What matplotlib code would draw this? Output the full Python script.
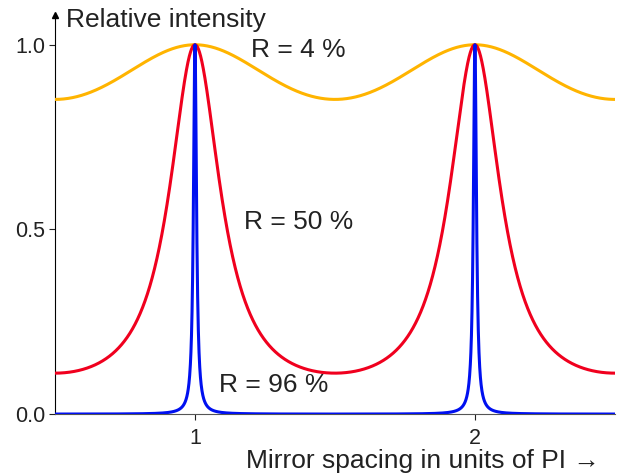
import numpy as np
import matplotlib.pyplot as plt

plt.rcParams['font.family'] = ['Liberation Sans', 'DejaVu Sans']

# mirror reflectances of the three curves (Airy transmission)
reflectances = [0.04, 0.50, 0.96]
labels = ['R = 4 %', 'R = 50 %', 'R = 96 %']
colors = ['#FFB400', '#F0001E', '#0010F0']
label_pos = [(1.20, 0.985), (1.175, 0.52), (1.085, 0.08)]
xticks = [1, 2]
yticks = [0.0, 0.5, 1.0]

x = np.linspace(0.5, 2.5, 4001)

fig = plt.figure(figsize=(6.18, 4.75), dpi=100)
ax = fig.add_axes([0.089, 0.128, 0.906, 0.84])

for R, c in zip(reflectances, colors):
    F = 4 * R / (1 - R) ** 2
    ax.plot(x, 1 / (1 + F * np.sin(np.pi * x) ** 2), color=c, lw=2.2, zorder=3)

for lab, (tx, ty) in zip(labels, label_pos):
    ax.text(tx, ty, lab, fontsize=19, va='center', ha='left', color='#222222')

ax.set_xlim(0.5, 2.5)
ax.set_ylim(0, 1.08)
ax.set_xticks(xticks)
ax.set_xticklabels([str(t) for t in xticks])
ax.set_yticks(yticks)
ax.set_yticklabels(['%.1f' % t for t in yticks])
ax.tick_params(labelsize=15.5, colors='#222222', length=4, pad=3)
ax.tick_params(axis='x', pad=6)
ax.spines['top'].set_visible(False)
ax.spines['right'].set_visible(False)
ax.spines['bottom'].set_color('#555555')
ax.plot(0, 1, '^k', markersize=5, transform=ax.transAxes, clip_on=False)

fig.text(66 / 618, 1 - 20 / 475, 'Relative intensity', fontsize=19, va='center', color='#222222')
fig.text(600 / 618, 1 - 461 / 475, 'Mirror spacing in units of PI \u2192', fontsize=19,
         va='center', ha='right', color='#222222')

fig.savefig('out.png', dpi=100)
